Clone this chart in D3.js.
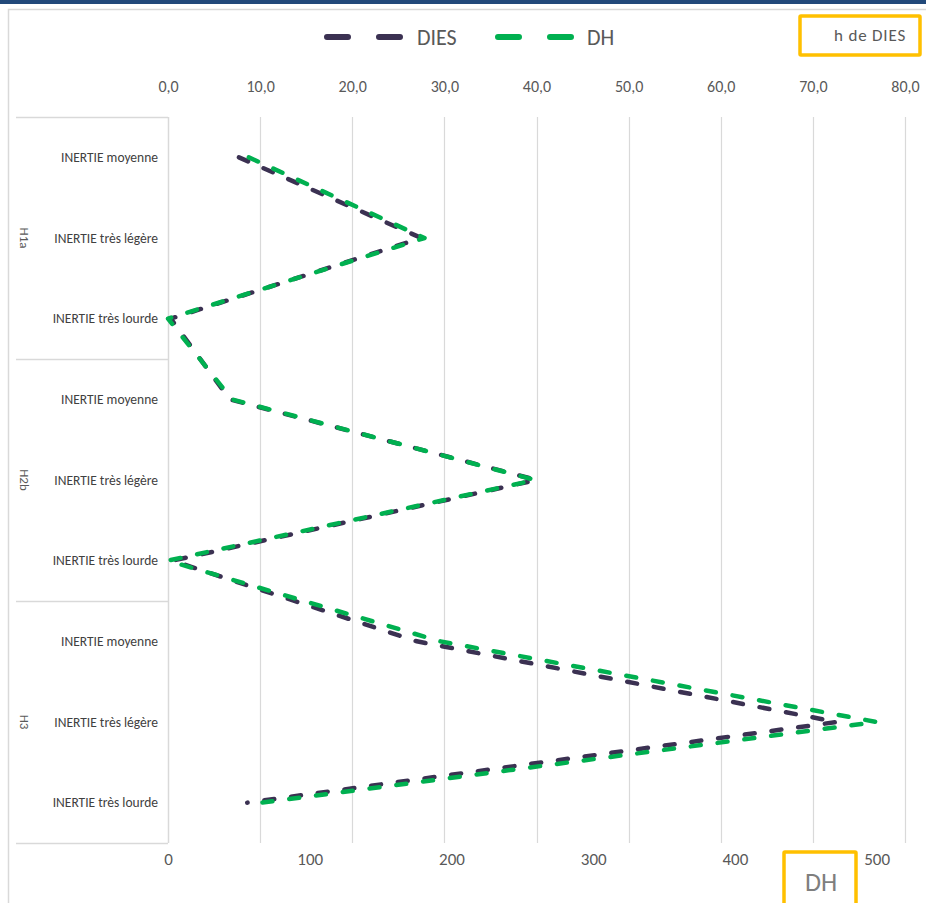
<!DOCTYPE html>
<html>
<head>
<meta charset="utf-8">
<script src="https://cdn.jsdelivr.net/npm/d3@7"></script>
<style>
  html, body { margin: 0; padding: 0; background: #ffffff; }
  svg { display: block; font-family: Carlito, Lato, "Open Sans", sans-serif; }
</style>
</head>
<body>
<svg id="chart" width="926" height="903"></svg>
<script>
// ---- data ----
const groups = ["H1a", "H2b", "H3"];
const inertia = ["INERTIE moyenne", "INERTIE très légère", "INERTIE très lourde"];
const dies = [7.7, 27.5, 0.3, 6.7, 40.0, 0.5, 27.0, 72.6, 8.6];   // h de DIES (top axis)
const dh   = [57, 181, 0, 45, 259, 0, 192, 500, 66];             // DH (bottom axis)
const diesTicks = [0, 10, 20, 30, 40, 50, 60, 70, 80];
const dhTicks = [0, 100, 200, 300, 400, 500];
const seriesNames = ["DIES", "DH"];
const seriesColors = ["#3b3152", "#00b050"];

// ---- layout ----
const svg = d3.select("#chart");
const plotLeft = 168, plotRight = 905, plotTop = 117, plotBottom = 843, catLeft = 16;

const rows = [];
groups.forEach(g => inertia.forEach(c => rows.push(g + "|" + c)));

const xTop = d3.scaleLinear().domain([0, 80]).range([plotLeft, plotRight]);
const xBot = d3.scaleLinear().domain([0, 520]).range([plotLeft, plotRight]);
const y = d3.scaleBand().domain(rows).range([plotTop, plotBottom]).padding(0);
const yc = i => y(rows[i]) + y.bandwidth() / 2;

const locale = d3.formatLocale({decimal: ",", thousands: " ", grouping: [3], currency: ["", " €"]});
const fmt1 = locale.format(".1f");

// top navy bar
svg.append("rect").attr("x", 0).attr("y", 0).attr("width", 926).attr("height", 4).attr("fill", "#22497a");
// outer chart frame
svg.append("path").attr("d", "M8.5,903 V9.5 H926").attr("fill", "none").attr("stroke", "#d9d9d9").attr("stroke-width", 1.5);

// gridlines (top axis)
svg.append("g").selectAll("line").data(diesTicks.slice(1)).join("line")
  .attr("x1", d => Math.round(xTop(d)) + 0.5).attr("x2", d => Math.round(xTop(d)) + 0.5)
  .attr("y1", plotTop).attr("y2", plotBottom)
  .attr("stroke", "#d9d9d9").attr("stroke-width", 1.2);

// category axis line and group separators
svg.append("line").attr("x1", plotLeft + 0.5).attr("x2", plotLeft + 0.5).attr("y1", plotTop).attr("y2", plotBottom)
  .attr("stroke", "#d9d9d9").attr("stroke-width", 1.5);
const sepY = [plotTop, y(rows[3]), y(rows[6]), plotBottom];
svg.append("g").selectAll("line").data(sepY).join("line")
  .attr("x1", catLeft).attr("x2", plotLeft).attr("y1", d => Math.round(d) + 0.5).attr("y2", d => Math.round(d) + 0.5)
  .attr("stroke", "#d9d9d9").attr("stroke-width", 1.5);

// category labels
svg.append("g").selectAll("text").data(rows).join("text")
  .attr("x", 158).attr("y", (d, i) => yc(i)).attr("dy", "0.35em")
  .attr("text-anchor", "end").attr("font-size", 13.5).attr("fill", "#404040")
  .text(d => d.split("|")[1]);

// group labels (rotated)
svg.append("g").selectAll("text").data(groups).join("text")
  .attr("transform", (g, i) => `translate(25,${yc(i * 3 + 1)}) rotate(90)`)
  .attr("text-anchor", "middle").attr("dy", "0.35em")
  .attr("font-size", 13).attr("fill", "#595959")
  .text(d => d);

// top axis
const topAxis = d3.axisTop(xTop).tickValues(diesTicks).tickFormat(fmt1).tickSize(0).tickPadding(0);
const gTop = svg.append("g").attr("transform", "translate(0,92)").call(topAxis);
gTop.select(".domain").remove();
gTop.selectAll("text").attr("font-size", 16).attr("fill", "#595959").attr("font-family", "Carlito, Lato, sans-serif");

// bottom axis
const botAxis = d3.axisBottom(xBot).tickValues(dhTicks).tickFormat(d3.format("d")).tickSize(0).tickPadding(0);
const gBot = svg.append("g").attr("transform", "translate(0,853)").call(botAxis);
gBot.select(".domain").remove();
gBot.selectAll("text").attr("font-size", 17).attr("fill", "#595959").attr("font-family", "Carlito, Lato, sans-serif");

// series lines
const lineTop = d3.line().x(d => xTop(d)).y((d, i) => yc(i));
const lineBot = d3.line().x(d => xBot(d)).y((d, i) => yc(i));
const pDies = svg.append("path").datum(dies).attr("d", lineTop)
  .attr("fill", "none").attr("stroke", seriesColors[0]).attr("stroke-width", 4.5)
  .attr("stroke-linecap", "round").attr("stroke-linejoin", "round");
// tune dash period so the DIES line ends on a tiny dash (dot), as in the reference
{
  const L = pDies.node().getTotalLength();
  const n = Math.round(L / 27);
  const p = (L - 0.4) / n;
  pDies.attr("stroke-dasharray", `${(p * 10 / 27).toFixed(3)},${(p * 17 / 27).toFixed(3)}`);
}
svg.append("path").datum(dh).attr("d", lineBot)
  .attr("fill", "none").attr("stroke", seriesColors[1]).attr("stroke-width", 4.5)
  .attr("stroke-dasharray", "10,17").attr("stroke-linecap", "round").attr("stroke-linejoin", "round");

// legend
const legend = [
  {name: seriesNames[0], color: seriesColors[0], x1: 327, x2: 400, tx: 417},
  {name: seriesNames[1], color: seriesColors[1], x1: 498, x2: 571, tx: 587}
];
const lg = svg.append("g");
lg.selectAll("line").data(legend).join("line")
  .attr("x1", d => d.x1).attr("x2", d => d.x2).attr("y1", 37).attr("y2", 37)
  .attr("stroke", d => d.color).attr("stroke-width", 6)
  .attr("stroke-dasharray", "21,31").attr("stroke-linecap", "round");
lg.selectAll("text").data(legend).join("text")
  .attr("x", d => d.tx).attr("y", 37).attr("dy", "0.35em")
  .attr("font-size", 22).attr("fill", "#595959").text(d => d.name);

// axis title boxes
svg.append("rect").attr("x", 800).attr("y", 16).attr("width", 120).attr("height", 39)
  .attr("fill", "none").attr("stroke", "#ffc000").attr("stroke-width", 3.5).attr("rx", 1);
svg.append("text").attr("x", 906).attr("y", 41).attr("text-anchor", "end")
  .attr("font-size", 17).attr("letter-spacing", 0.8).attr("fill", "#595959").text("h de DIES");

svg.append("rect").attr("x", 784).attr("y", 852).attr("width", 72).attr("height", 60)
  .attr("fill", "none").attr("stroke", "#ffc000").attr("stroke-width", 3.5).attr("rx", 1);
svg.append("text").attr("x", 821).attr("y", 882).attr("dy", "0.35em").attr("text-anchor", "middle")
  .attr("font-size", 26).attr("fill", "#7f7f7f").text("DH");
</script>
</body>
</html>
